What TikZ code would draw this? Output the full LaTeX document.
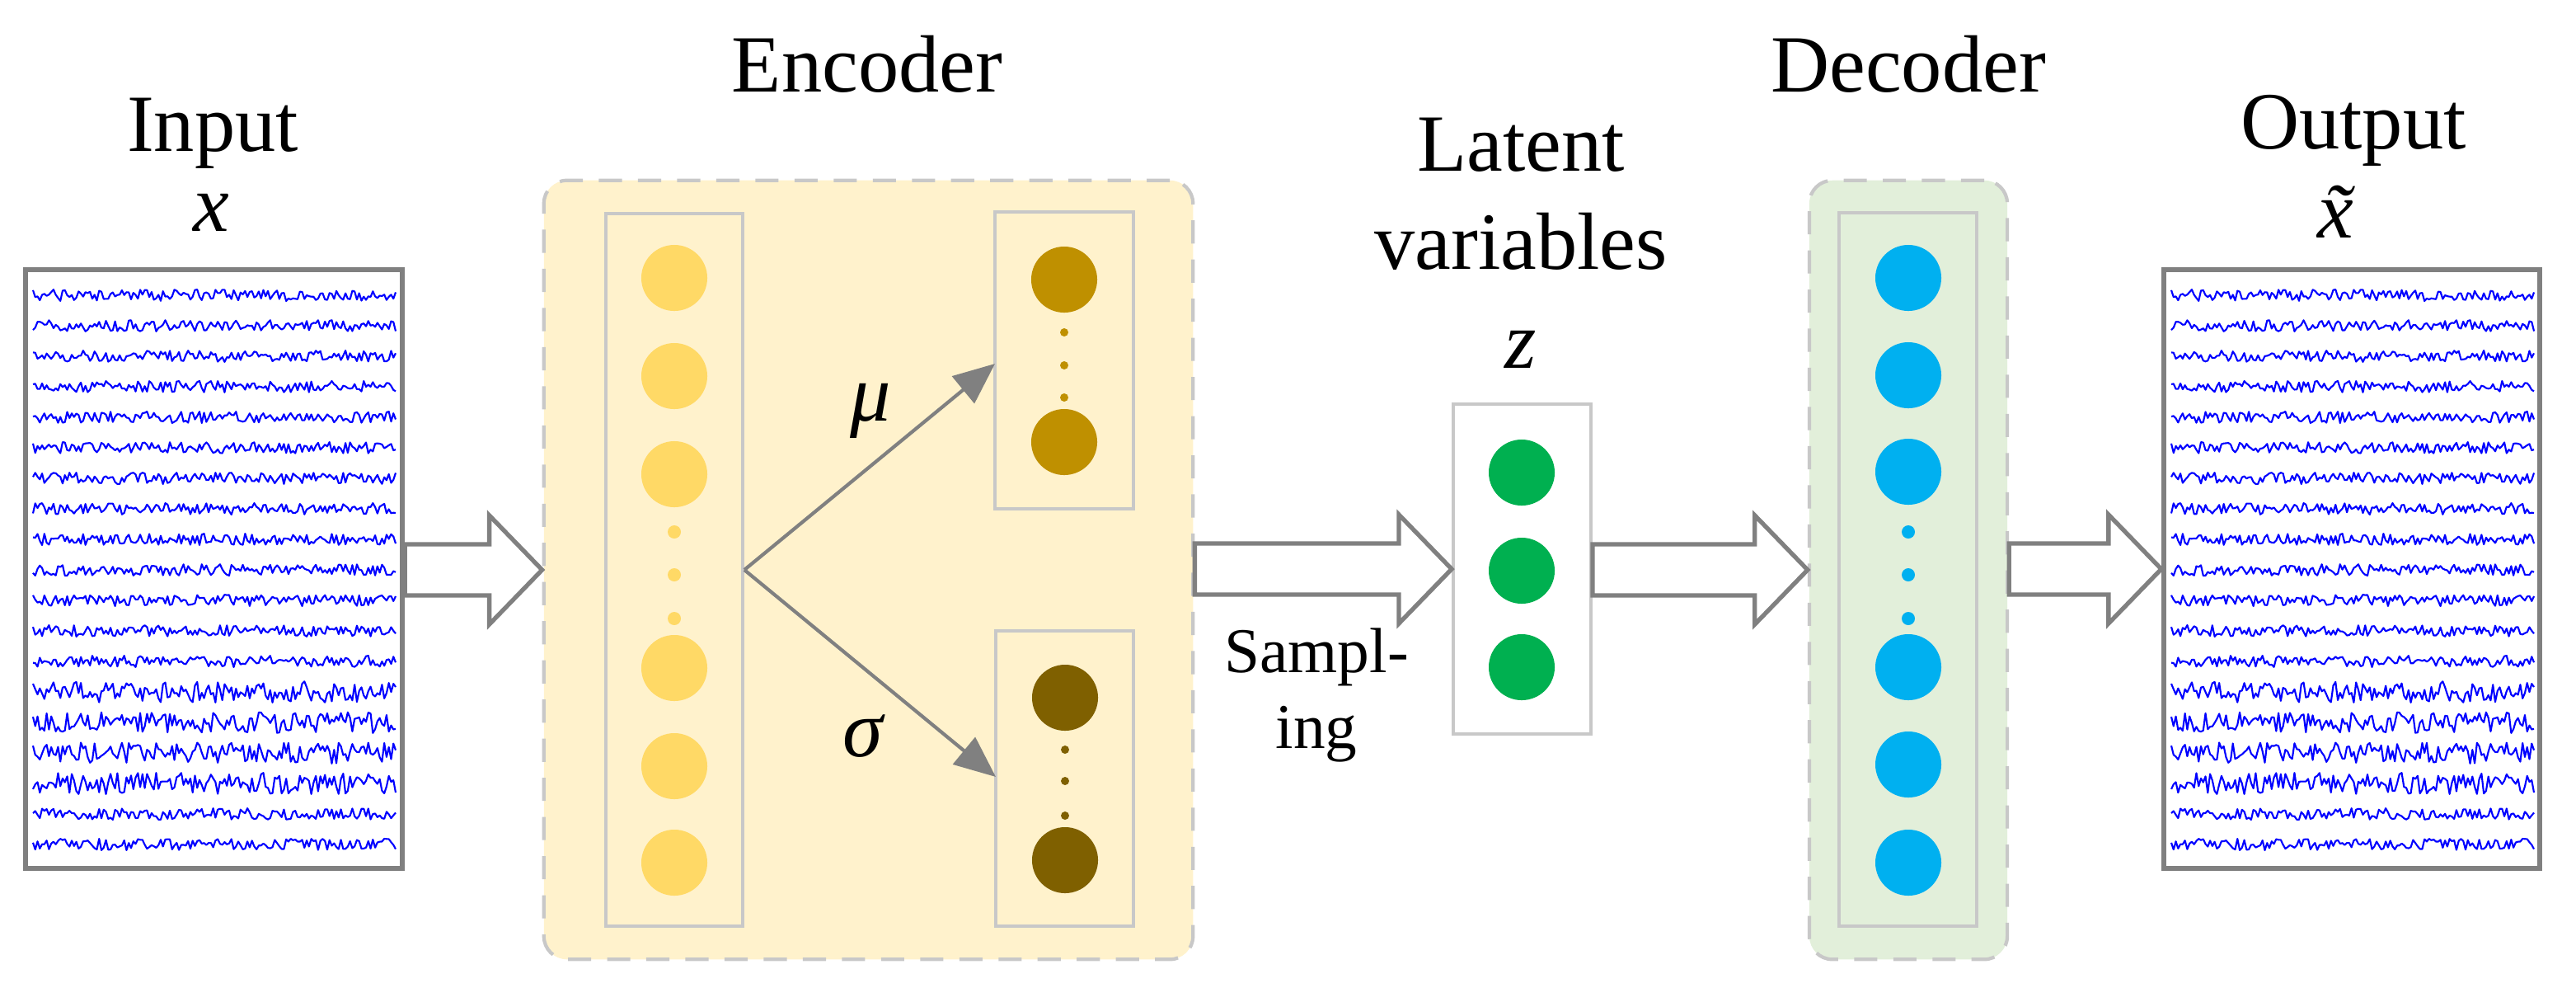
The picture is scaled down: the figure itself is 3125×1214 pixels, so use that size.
\documentclass[tikz,border=0pt]{standalone}
\usepackage{fontspec}
\setmainfont{Liberation Serif}
\usepackage{tikz}
\usetikzlibrary{arrows.meta,calc}

\definecolor{encFill}{HTML}{FFF2CC}
\definecolor{decFill}{HTML}{E2EFDA}
\definecolor{boxGray}{HTML}{C8C8C8}
\definecolor{arrGray}{HTML}{808080}
\definecolor{hidColor}{HTML}{FFD966}
\definecolor{muColor}{HTML}{BF9000}
\definecolor{sigColor}{HTML}{7F6000}
\definecolor{zColor}{HTML}{00B050}
\definecolor{outColor}{HTML}{00B0F0}

\tikzset{
  lbl/.style={font=\fontsize{28}{33}\selectfont, inner sep=0pt},
  smalllbl/.style={font=\fontsize{22}{26}\selectfont, inner sep=0pt},
  group/.style={draw=boxGray, line width=1.2pt, dash pattern=on 8pt off 5.5pt, rounded corners=0.28cm, inner sep=0pt},
  layer/.style={draw=boxGray, line width=1.1pt, inner sep=0pt},
  sigbox/.style={draw=arrGray, line width=1.7pt, fill=white, inner sep=0pt},
  unit/.style={circle, inner sep=0pt, minimum size=0.8cm, fill=#1},
  dot/.style={circle, inner sep=0pt, minimum size=0.13cm, fill=#1},
  fatarr/.style={draw=arrGray, line width=1.5pt, fill=white},
  thin arr/.style={draw=arrGray, line width=1.2pt, -{Triangle[length=0.5cm,width=0.42cm]}},
  eeg/.style={draw=blue, line width=0.6pt, line join=round}
}

\newcommand{\fatarrow}[2]{%
  \draw[fatarr] let \p1=(#1), \p2=(#2) in
    (\x1,\y2+0.31cm) -- (\x2-0.64cm,\y2+0.31cm) -- (\x2-0.64cm,\y2+0.66cm) -- (\x2,\y2)
    -- (\x2-0.64cm,\y2-0.66cm) -- (\x2-0.64cm,\y2-0.31cm) -- (\x1,\y2-0.31cm) -- cycle;}

\newcommand{\eegpanel}[1]{%
  \pgfmathsetseed{4711}
  \foreach \r in {0,...,18}{
    \pgfmathsetmacro{\amp}{(\r>12 && \r<17) ? 13 : 7}
    \draw[eeg] plot[domain=0:440, samples=160, variable=\t]
      ({#1+\t}, {358+37*\r+\amp*rand});
  }}

\begin{document}
\begin{tikzpicture}[x=0.01cm, y=-0.01cm]
\useasboundingbox (0,0) rectangle (3125,1214);

% titles
\node[lbl, anchor=base] (tin) at (258,183) {Input};
\node[lbl, anchor=base] (tx) at (256,280) {\textit{x}};
\node[lbl, anchor=base] (tenc) at (1052,111) {Encoder};
\node[lbl, anchor=base] (tlat) at (1845,207) {Latent};
\node[lbl, anchor=base] (tvar) at (1845,326) {variables};
\node[lbl, anchor=base] (tz) at (1845,446) {\textit{z}};
\node[lbl, anchor=base] (tdec) at (2315,111) {Decoder};
\node[lbl, anchor=base] (tout) at (2855,180) {Output};
\node[lbl, anchor=base] (txt) at (2853,288) {\textit{\~x}};

% signal panels
\node[sigbox, minimum width=4.57cm, minimum height=7.26cm] (inbox) at (259.5,690) {};
\node[sigbox, minimum width=4.56cm, minimum height=7.26cm] (outbox) at (2853,690) {};
\eegpanel{40}
\eegpanel{2634}

% encoder
\node[group, fill=encFill, minimum width=7.87cm, minimum height=9.44cm] (enc) at (1053.5,691) {};
\node[layer, minimum width=1.66cm, minimum height=8.64cm] (hid) at (818,691) {};
\node[layer, minimum width=1.68cm, minimum height=3.60cm] (mubox) at (1291,437) {};
\node[layer, minimum width=1.67cm, minimum height=3.58cm] (sigbox) at (1291.5,944) {};
\foreach \y in {337,456,575,810,929,1046}
  \node[unit=hidColor] at (818,\y) {};
\foreach \y in {645,697,750}
  \node[dot=hidColor, minimum size=0.16cm] at (818,\y) {};
\foreach \y in {339,536}
  \node[unit=muColor] at (1291,\y) {};
\foreach \y in {403,443,482}
  \node[dot=muColor, minimum size=0.1cm] at (1291,\y) {};
\foreach \y in {846,1043}
  \node[unit=sigColor] at (1292,\y) {};
\foreach \y in {909,947,989}
  \node[dot=sigColor, minimum size=0.1cm] at (1292,\y) {};
\coordinate (split) at (hid.east);
\coordinate (muin) at (1207,441);
\coordinate (sigin) at (1208,942);
\draw[thin arr] (split) -- (muin);
\draw[thin arr] (split) -- (sigin);
\node[lbl] (tmu) at (1056,498) {\textit{μ}};
\node[lbl] (tsig) at (1048,893) {\textit{σ}};

% latent
\node[layer, fill=white, minimum width=1.67cm, minimum height=4.0cm] (lat) at (1846.5,690) {};
\foreach \y in {573,692,809}
  \node[unit=zColor] at (1846,\y) {};
\node[smalllbl, anchor=base] (tsamp) at (1597,815) {Sampl-};
\node[smalllbl, anchor=base] (ting) at (1597,907) {ing};

% decoder
\node[group, fill=decFill, minimum width=2.40cm, minimum height=9.44cm] (dec) at (2315,691) {};
\node[layer, minimum width=1.67cm, minimum height=8.65cm] (out) at (2314.5,690.5) {};
\foreach \y in {337,455,572,809,927,1046}
  \node[unit=outColor] at (2315,\y) {};
\foreach \y in {645,697,750}
  \node[dot=outColor, minimum size=0.16cm] at (2315,\y) {};

% flow
\fatarrow{inbox.east}{enc.west}
\fatarrow{enc.east}{lat.west}
\fatarrow{lat.east}{dec.west}
\fatarrow{dec.east}{outbox.west}
\end{tikzpicture}
\end{document}
